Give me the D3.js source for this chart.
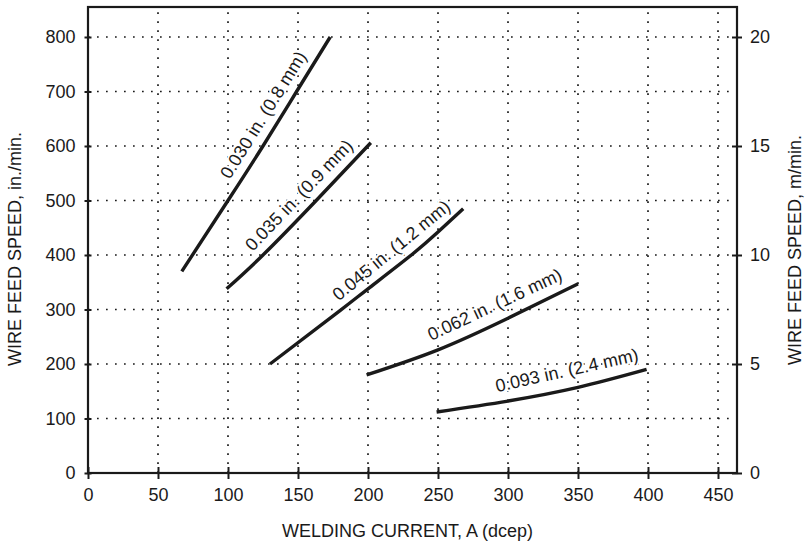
<!DOCTYPE html>
<html>
<head>
<meta charset="utf-8">
<script src="https://cdn.jsdelivr.net/npm/d3@7"></script>
<style>
  body { margin: 0; background: #fff; }
  text { font-family: "Liberation Sans", Arial, sans-serif; fill: #1a1a1a; }
</style>
</head>
<body>
<svg id="chart" width="806" height="541"></svg>
<script>
(function() {

  // tick values
  var currentTicks = [0, 50, 100, 150, 200, 250, 300, 350, 400, 450];
  var speedTicks = [0, 100, 200, 300, 400, 500, 600, 700, 800];
  var metricTicks = [0, 5, 10, 15, 20];

  // wire diameters
  var wireNames = ["0.030 in. (0.8 mm)", "0.035 in. (0.9 mm)", "0.045 in. (1.2 mm)",
                   "0.062 in. (1.6 mm)", "0.093 in. (2.4 mm)"];

  // welding current (A) and wire feed speed (in./min.)
  var current030 = [67, 100, 125, 149, 173];
  var speed030   = [370, 500, 600, 700, 800];
  var current035 = [99, 125, 163, 202];
  var speed035   = [338, 400, 500, 606];
  var current045 = [130, 180, 200, 231, 250, 268];
  var speed045   = [200, 298, 338, 400, 442, 485];
  var current062 = [199, 250, 300, 350];
  var speed062   = [180, 226, 284, 347];
  var current093 = [249, 300, 350, 399];
  var speed093   = [112, 132, 157, 190];

  var currents = [current030, current035, current045, current062, current093];
  var speeds = [speed030, speed035, speed045, speed062, speed093];

  // label layout: current (A) under the label's middle, gap above the curve (px)
  var labelCurrent = [135, 159, 224, 296, 345];
  var labelGap = [10, 10, 10, 12, 13];

  var margin = { top: 7, right: 69, bottom: 68, left: 88 };
  var width = 806 - margin.left - margin.right;
  var height = 541 - margin.top - margin.bottom;

  var svg = d3.select("#chart")
    .append("g")
    .attr("transform", "translate(" + margin.left + "," + margin.top + ")");

  var x = d3.scaleLinear().domain([0, width / 1.4]).range([0, width]);
  var y = d3.scaleLinear().domain([0, height / 0.545]).range([height, 0]);
  var yMetric = d3.scaleLinear().domain([0, height / 0.545 / 40]).range([height, 0]);

  var ink = "#1a1a1a";

  // dotted grid
  svg.append("g")
    .selectAll("line")
    .data(speedTicks.filter(function(d) { return d > 0; }))
    .enter().append("line")
    .attr("x1", 0).attr("x2", width)
    .attr("y1", function(d) { return y(d); })
    .attr("y2", function(d) { return y(d); })
    .attr("stroke", ink)
    .attr("stroke-width", 1.7)
    .attr("stroke-dasharray", "1.7,7.3");

  svg.append("g")
    .selectAll("line")
    .data(currentTicks.filter(function(d) { return d > 0; }))
    .enter().append("line")
    .attr("y1", height).attr("y2", 0)
    .attr("x1", function(d) { return x(d); })
    .attr("x2", function(d) { return x(d); })
    .attr("stroke", ink)
    .attr("stroke-width", 1.7)
    .attr("stroke-dasharray", "1.7,7.3");

  // axes
  var bottomAxis = svg.append("g")
    .attr("transform", "translate(0," + height + ")")
    .call(d3.axisBottom(x).tickValues(currentTicks).tickSize(6).tickPadding(9));
  bottomAxis.selectAll(".tick line").attr("y1", -6).attr("y2", 6);

  var leftAxis = svg.append("g")
    .call(d3.axisLeft(y).tickValues(speedTicks).tickSize(3.5).tickPadding(9));
  leftAxis.selectAll(".tick line").attr("x1", 3.5).attr("x2", -3.5);

  var rightAxis = svg.append("g")
    .attr("transform", "translate(" + width + ",0)")
    .call(d3.axisRight(yMetric).tickValues(metricTicks).tickSize(5).tickPadding(8));
  rightAxis.selectAll(".tick line").attr("x1", -5).attr("x2", 5);

  [bottomAxis, leftAxis, rightAxis].forEach(function(a) {
    a.select(".domain").remove();
    a.selectAll(".tick line").attr("stroke", ink).attr("stroke-width", 2);
    a.selectAll(".tick text").attr("font-size", 18).attr("font-family", null).attr("fill", ink);
  });

  // frame
  svg.append("rect")
    .attr("x", 0).attr("y", 0)
    .attr("width", width).attr("height", height)
    .attr("fill", "none")
    .attr("stroke", ink)
    .attr("stroke-width", 2.2);

  // curves
  var line = d3.line()
    .x(function(d) { return x(d[0]); })
    .y(function(d) { return y(d[1]); })
    .curve(d3.curveNatural);

  // length along the path where the curve passes a given pixel x
  function lengthAtX(node, px) {
    var lo = 0, hi = node.getTotalLength();
    for (var k = 0; k < 30; k++) {
      var mid = (lo + hi) / 2;
      if (node.getPointAtLength(mid).x < px) lo = mid; else hi = mid;
    }
    return (lo + hi) / 2;
  }

  currents.forEach(function(cur, i) {
    var pts = cur.map(function(c, j) { return [c, speeds[i][j]]; });
    var path = svg.append("path")
      .attr("d", line(pts))
      .attr("fill", "none")
      .attr("stroke", ink)
      .attr("stroke-width", 3.4);

    var node = path.node();
    var len = node.getTotalLength();
    var at = lengthAtX(node, x(labelCurrent[i]));
    var a = node.getPointAtLength(Math.max(0, at - 75));
    var b = node.getPointAtLength(Math.min(len, at + 75));
    var c = node.getPointAtLength(at);
    var angle = Math.atan2(b.y - a.y, b.x - a.x) * 180 / Math.PI;

    // white halo so the dotted grid doesn't run through the letters
    svg.append("text")
      .attr("transform", "translate(" + c.x + "," + c.y + ") rotate(" + angle + ")")
      .attr("dy", -labelGap[i])
      .attr("text-anchor", "middle")
      .attr("font-size", 18)
      .attr("stroke", "#fff")
      .attr("stroke-width", 4)
      .attr("stroke-linejoin", "round")
      .attr("paint-order", "stroke")
      .text(wireNames[i]);
  });

  // axis titles
  svg.append("text")
    .attr("x", (width / 2) - 5)
    .attr("y", height + 64)
    .attr("text-anchor", "middle")
    .attr("font-size", 18)
    .text("WELDING CURRENT, A (dcep)");

  svg.append("text")
    .attr("transform", "translate(" + (-67) + "," + (height / 2 + 9) + ") rotate(-90)")
    .attr("text-anchor", "middle")
    .attr("font-size", 18)
    .text("WIRE FEED SPEED, in./min.");

  svg.append("text")
    .attr("transform", "translate(" + (width + 64) + "," + (height / 2 + 10) + ") rotate(-90)")
    .attr("text-anchor", "middle")
    .attr("font-size", 18)
    .text("WIRE FEED SPEED, m/min.");

})()
</script>
</body>
</html>
